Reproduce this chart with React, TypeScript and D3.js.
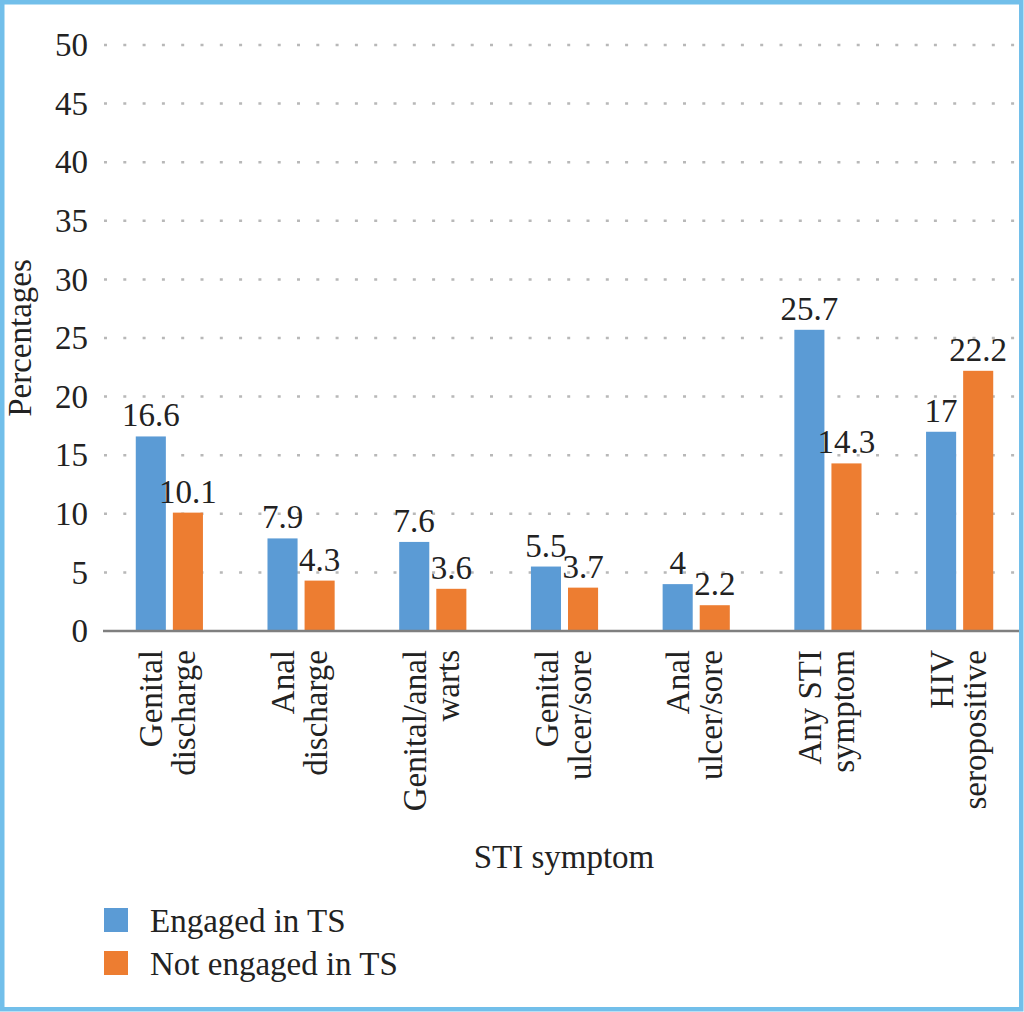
import React from "react";
import * as d3 from "d3";

const categories: string[][] = [
  ["Genital", "discharge"],
  ["Anal", "discharge"],
  ["Genital/anal", "warts"],
  ["Genital", "ulcer/sore"],
  ["Anal", "ulcer/sore"],
  ["Any STI", "symptom"],
  ["HIV", "seropositive"],
];
const engaged: number[] = [16.6, 7.9, 7.6, 5.5, 4, 25.7, 17];
const notEngaged: number[] = [10.1, 4.3, 3.6, 3.7, 2.2, 14.3, 22.2];
const seriesNames: string[] = ["Engaged in TS", "Not engaged in TS"];
const yTicks: number[] = [0, 5, 10, 15, 20, 25, 30, 35, 40, 45, 50];
const xTitle = "STI symptom";
const yTitle = "Percentages";

const colors = ["#5b9bd5", "#ed7d31"];
const FONT = "'Liberation Serif', 'Times New Roman', serif";
const FS = 33;

export default function App() {
  const W = 1024;
  const H = 1012;
  const y = d3.scaleLinear().domain([0, 50]).range([631, 45]);
  const keys = categories.map((c) => c.join(" "));
  const x0 = d3
    .scaleBand<string>()
    .domain(keys)
    .range([103.5, 1025.5])
    .paddingInner(0.49)
    .paddingOuter(0.245);
  const x1 = d3
    .scaleBand<string>()
    .domain(seriesNames)
    .range([0, x0.bandwidth()])
    .paddingInner(0.189);
  const series = [engaged, notEngaged];

  return (
    <svg
      width={W}
      height={H}
      style={{ position: "absolute", left: 0, top: 0, background: "#fff" }}
      fontFamily={FONT}
    >
      <rect x={0} y={0} width={W} height={H} fill="#fff" />
      {/* gridlines */}
      {yTicks
        .filter((t) => t > 0)
        .map((t) => (
          <line
            key={"g" + t}
            x1={104}
            x2={1017}
            y1={y(t)}
            y2={y(t)}
            stroke="#b8b8b8"
            strokeWidth={2.5}
            strokeDasharray="3 16.3"
          />
        ))}
      {/* y tick labels */}
      {yTicks.map((t) => (
        <text
          key={"t" + t}
          x={88}
          y={y(t)}
          dy="0.34em"
          textAnchor="end"
          fontSize={FS}
          fill="#222"
        >
          {t}
        </text>
      ))}
      {/* bars */}
      {keys.map((k, i) => (
        <g key={k} transform={`translate(${x0(k)},0)`}>
          {series.map((s, j) => (
            <g key={j}>
              <rect
                x={x1(seriesNames[j])}
                y={y(s[i])}
                width={x1.bandwidth()}
                height={y(0) - y(s[i])}
                fill={colors[j]}
              />
              <text
                x={(x1(seriesNames[j]) as number) + x1.bandwidth() / 2}
                y={y(s[i]) - 10}
                textAnchor="middle"
                fontSize={FS}
                fill="#222"
              >
                {String(s[i])}
              </text>
            </g>
          ))}
        </g>
      ))}
      {/* axis line */}
      <line x1={103} x2={1019} y1={y(0)} y2={y(0)} stroke="#7f7f7f" strokeWidth={2.5} />
      {/* category labels */}
      {keys.map((k, i) => {
        const cx = (x0(k) as number) + x0.bandwidth() / 2;
        return (
          <g key={"c" + k} transform={`translate(${cx},650) rotate(-90)`}>
            {categories[i].map((line, li) => (
              <text
                key={li}
                x={0}
                y={li === 0 ? -7 : 26}
                textAnchor="end"
                fontSize={FS}
                fill="#222"
              >
                {line}
              </text>
            ))}
          </g>
        );
      })}
      {/* axis titles */}
      <text x={564} y={868} textAnchor="middle" fontSize={FS} fill="#222">
        {xTitle}
      </text>
      <text
        transform="translate(31,338) rotate(-90)"
        textAnchor="middle"
        fontSize={FS}
        fill="#222"
      >
        {yTitle}
      </text>
      {/* legend */}
      {seriesNames.map((n, j) => {
        const base = j === 0 ? 932 : 975;
        return (
          <g key={"l" + j}>
            <rect x={104} y={base - 24} width={24} height={24} fill={colors[j]} />
            <text x={150} y={base} fontSize={FS} fill="#222">
              {n}
            </text>
          </g>
        );
      })}
      {/* border */}
      <rect
        x={2.25}
        y={2.25}
        width={W - 4.5 - 0.5}
        height={H - 4.5 - 0.5}
        fill="none"
        stroke="#72bfea"
        strokeWidth={4.5}
      />
    </svg>
  );
}
